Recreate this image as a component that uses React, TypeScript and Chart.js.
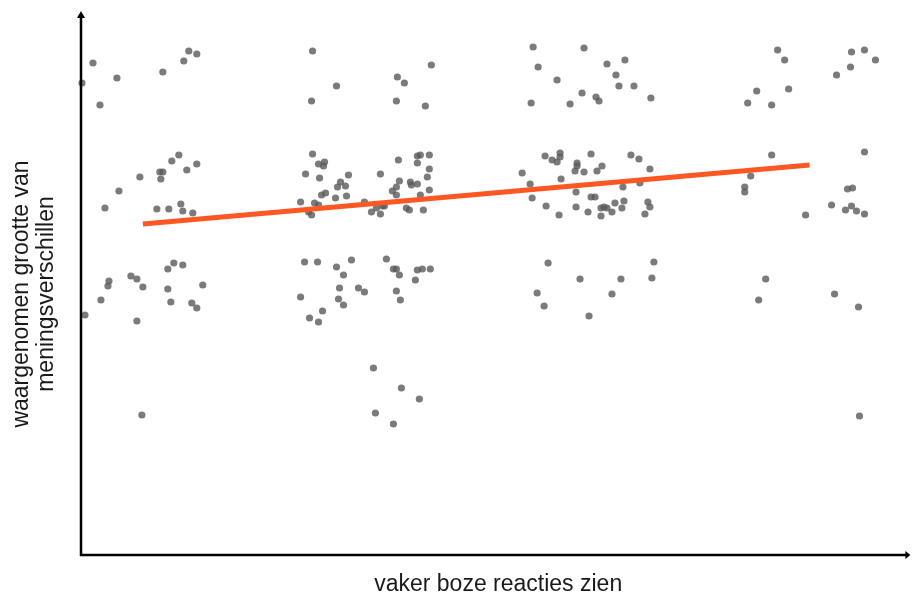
import React, { useEffect, useRef } from "react";
import { Chart, registerables } from "chart.js";

Chart.register(...registerables);

const xTitle = "vaker boze reacties zien";
const yTitleLines = ["waargenomen grootte van", "meningsverschillen"];

const xValues = [
  0.1, 1.2, 3.6, 1.9, 8.2, 10.3, 10.8, 11.6, 9.8, 9.1, 11.6, 7.9, 8.2, 10.6, 5.9, 8.0, 3.8, 2.4, 7.6, 8.8,
  10.0, 10.2, 11.2, 9.3, 8.7, 10.2, 5.0, 5.6, 2.8, 2.7, 6.2, 8.7, 12.2, 2.0, 9.0, 11.1, 11.6, 0.4, 5.6, 6.1,
  23.2, 25.6, 23.1, 31.7, 32.4, 35.1, 31.6, 34.5, 23.2, 23.8, 24.4, 24.3, 22.5, 23.9, 26.8, 26.0, 25.7, 26.5, 24.1, 24.5,
  25.5, 26.6, 30.0, 31.8, 33.7, 34.0, 34.9, 33.7, 34.9, 34.7, 31.9, 33.0, 33.1, 33.7, 31.2, 31.6, 31.6, 34.0, 34.9, 22.0,
  23.4, 23.8, 22.8, 23.1, 28.4, 29.1, 29.6, 30.0, 30.2, 30.4, 32.6, 32.9, 34.3, 22.4, 23.7, 25.6, 27.1, 26.3, 30.6, 31.3,
  31.6, 31.9, 33.7, 34.2, 35.0, 33.5, 25.9, 27.8, 28.4, 31.6, 32.0, 22.0, 25.8, 26.3, 24.2, 22.9, 23.8, 29.3, 32.1, 33.9,
  29.5, 31.3,
  45.3, 50.4, 45.8, 47.7, 45.1, 52.7, 54.5, 53.6, 53.9, 55.4, 50.2, 51.6, 51.9, 49.0, 57.1, 46.5, 48.0, 48.0, 47.2, 47.7,
  51.1, 49.7, 49.7, 49.5, 50.4, 52.2, 51.7, 55.1, 55.9, 57.0, 44.2, 45.0, 48.1, 45.2, 49.6, 51.1, 51.5, 54.3, 56.0, 46.6,
  47.9, 49.6, 50.8, 52.1, 52.4, 52.7, 52.1, 53.2, 53.5, 54.4, 54.2, 56.8, 57.0, 56.5, 46.8, 57.4, 50.0, 54.1, 57.2, 45.7,
  53.2, 46.4, 50.9,
  69.8, 70.5, 67.7, 70.9, 66.8, 69.2, 69.2, 67.1, 66.5, 66.5, 72.6, 68.6, 67.9,
  77.2, 78.5, 79.6, 77.1, 75.7, 78.5, 76.8, 77.3, 75.2, 77.2, 76.6, 77.7, 78.5, 75.5, 77.9, 78.0,
];

const yValues = [
  47.2, 49.2, 47.7, 45.0, 48.3, 49.4, 50.4, 50.1, 40.0, 39.4, 39.1, 38.3, 38.3, 38.5, 37.8, 37.6, 36.4, 34.7, 34.6, 34.6,
  35.1, 34.4, 34.2, 29.2, 28.6, 29.0, 27.9, 27.6, 27.4, 26.9, 26.8, 26.6, 27.0, 25.5, 25.3, 25.2, 24.7, 24.0, 23.4, 14.0,
  50.4, 46.9, 45.4, 47.8, 47.2, 49.0, 45.4, 44.9, 40.1, 39.1, 39.3, 38.9, 38.1, 37.7, 38.0, 37.3, 36.8, 36.9, 36.0, 36.2,
  35.7, 35.9, 38.1, 39.5, 39.9, 40.0, 40.0, 39.2, 38.6, 37.8, 37.4, 37.3, 37.0, 37.1, 36.4, 36.8, 36.0, 36.0, 36.5, 35.3,
  35.2, 35.0, 34.3, 34.0, 35.3, 34.3, 34.7, 34.1, 34.9, 34.9, 34.7, 34.5, 34.5, 29.3, 29.3, 28.8, 29.5, 28.0, 29.6, 28.6,
  28.6, 28.0, 28.5, 28.6, 28.6, 27.5, 26.7, 26.7, 26.3, 26.4, 25.5, 25.8, 25.6, 25.0, 24.4, 23.7, 23.3, 18.7, 16.7, 15.6,
  14.2, 13.1,
  50.8, 50.7, 48.8, 47.5, 45.2, 49.1, 49.5, 48.0, 46.9, 46.9, 46.2, 45.8, 45.4, 45.1, 45.7, 39.9, 40.2, 39.8, 39.5, 39.3,
  40.1, 39.2, 38.9, 38.4, 38.3, 38.9, 38.4, 40.0, 39.6, 38.6, 38.2, 37.1, 37.6, 35.7, 36.3, 35.8, 35.8, 36.8, 37.2, 34.9,
  34.0, 34.8, 34.3, 34.7, 34.8, 34.7, 33.9, 34.3, 35.2, 35.4, 34.7, 35.3, 34.8, 34.1, 29.2, 29.3, 27.6, 27.6, 27.7, 26.2,
  26.1, 24.9, 23.9,
  50.5, 49.5, 46.4, 46.6, 45.2, 45.0, 40.0, 37.9, 36.8, 36.3, 34.0, 27.6, 25.5,
  50.3, 50.5, 49.5, 48.8, 48.0, 40.3, 36.6, 36.7, 35.0, 34.9, 34.5, 34.4, 34.1, 26.1, 24.8, 13.9,
];

const trendX = [6.2, 73.0];
const trendY = [33.1, 39.0];

const xMin = 0;
const xMax = 83;
const yMin = 0;
const yMax = 54;

const axesPlugin = {
  id: "arrowAxes",
  afterDatasetsDraw(chart: any) {
    const { ctx, chartArea } = chart;
    const { left, right, top, bottom } = chartArea;
    ctx.save();
    ctx.strokeStyle = "#000";
    ctx.fillStyle = "#000";
    ctx.lineWidth = 2.5;
    // y axis
    ctx.beginPath();
    ctx.moveTo(left, bottom + 1);
    ctx.lineTo(left, top - 1);
    ctx.stroke();
    ctx.beginPath();
    ctx.moveTo(left, top - 4);
    ctx.lineTo(left - 4, top + 3);
    ctx.lineTo(left + 4, top + 3);
    ctx.closePath();
    ctx.fill();
    // x axis
    ctx.beginPath();
    ctx.moveTo(left - 1, bottom);
    ctx.lineTo(right - 1, bottom);
    ctx.stroke();
    ctx.beginPath();
    ctx.moveTo(right + 1, bottom);
    ctx.lineTo(right - 4, bottom - 4);
    ctx.lineTo(right - 4, bottom + 4);
    ctx.closePath();
    ctx.fill();

    // titles
    ctx.fillStyle = "#1a1a1a";
    ctx.font = "23px 'Liberation Sans', Arial, sans-serif";
    ctx.textAlign = "center";
    ctx.textBaseline = "middle";
    ctx.fillText(xTitle, (left + right) / 2 + 3, bottom + 30);

    ctx.translate(0, 294);
    ctx.rotate(-Math.PI / 2);
    ctx.fillText(yTitleLines[0], 0, 22);
    ctx.fillText(yTitleLines[1], 0, 47);
    ctx.restore();
  },
};

export default function App() {
  const canvasRef = useRef<HTMLCanvasElement | null>(null);

  useEffect(() => {
    document.body.style.margin = "0";
    const canvas = canvasRef.current;
    if (!canvas) return;
    const points = xValues.map((x, i) => ({ x, y: yValues[i] }));
    const trend = trendX.map((x, i) => ({ x, y: trendY[i] }));
    const chart = new Chart(canvas, {
      type: "scatter",
      data: {
        datasets: [
          {
            type: "line",
            data: trend,
            borderColor: "#ff5722",
            borderWidth: 5,
            pointRadius: 0,
            fill: false,
            order: 0,
          } as any,
          {
            type: "scatter",
            data: points,
            backgroundColor: "rgba(90,90,90,0.8)",
            borderWidth: 0,
            pointRadius: 3.6,
            pointHoverRadius: 3.6,
            clip: false,
            order: 1,
          } as any,
        ],
      },
      options: {
        animation: false,
        responsive: true,
        maintainAspectRatio: false,
        layout: { padding: { left: 81, right: 2, top: 15, bottom: 41 } },
        plugins: { legend: { display: false }, tooltip: { enabled: false } },
        scales: {
          x: { type: "linear", display: false, min: xMin, max: xMax },
          y: { type: "linear", display: false, min: yMin, max: yMax },
        },
      },
      plugins: [axesPlugin],
    });
    return () => chart.destroy();
  }, []);

  return (
    <div style={{ width: 913, height: 596, position: "relative", background: "#fff" }}>
      <canvas ref={canvasRef} />
    </div>
  );
}
